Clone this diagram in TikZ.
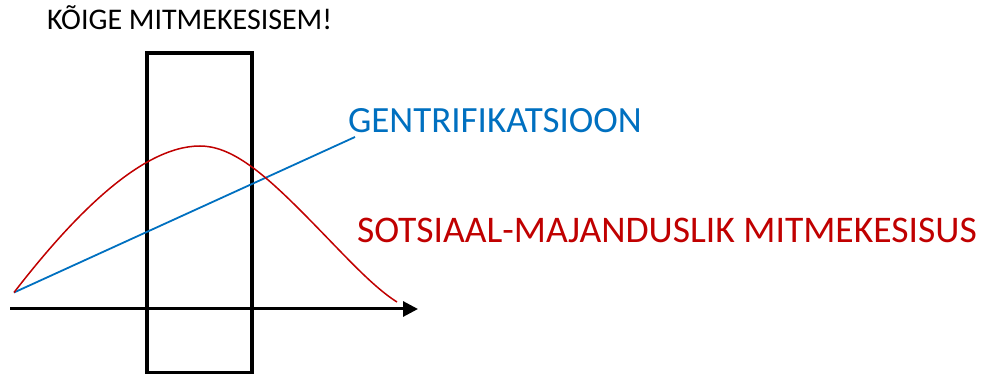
\documentclass[tikz,border=0pt]{standalone}
\usepackage{fontspec}
\setmainfont{Carlito}
\usetikzlibrary{arrows.meta}
\definecolor{offred}{HTML}{C00000}
\definecolor{offblue}{HTML}{0070C0}
\tikzset{
  lbl/.style={anchor=base west, inner sep=0pt, outer sep=0pt},
  axisline/.style={line width=3pt, -{Triangle[length=15pt,width=15pt]}},
  framebox/.style={line width=4pt},
}
\begin{document}
\begin{tikzpicture}[x=1pt,y=-1pt]
\useasboundingbox (0,0) rectangle (986,374);
% texts
\node[lbl, font=\fontsize{30}{32}\selectfont] (top) at (47,30) {KÕIGE MITMEKESISEM!};
\node[lbl, text=offblue, font=\fontsize{37}{39}\selectfont] (gent) at (348,133) {GENTRIFIKATSIOON};
\node[lbl, text=offred, font=\fontsize{37.6}{39}\selectfont] (sots) at (357,243) {SOTSIAAL-MAJANDUSLIK MITMEKESISUS};
% frame
\draw[framebox] (147,53) rectangle (252,373);
% axis
\coordinate (ax0) at (10,309);
\coordinate (ax1) at (418,309);
\draw[axisline] (ax0) -- (ax1);
% blue line
\coordinate (b0) at (14,292.5);
\coordinate (b1) at (355,137);
\draw[offblue, line width=1.8pt] (b0) -- (b1);
% red curve
\coordinate (r0) at (14,292.5);
\coordinate (rpk) at (200,146);
\coordinate (rmid) at (300,210);
\coordinate (r1) at (397,302);
\draw[offred, line width=1.5pt]
  (r0) .. controls (70,220) and (140,146) .. (rpk)
       .. controls (230,146) and (260,170) .. (rmid)
       .. controls (340,250) and (370,285) .. (r1);
\end{tikzpicture}
\end{document}
